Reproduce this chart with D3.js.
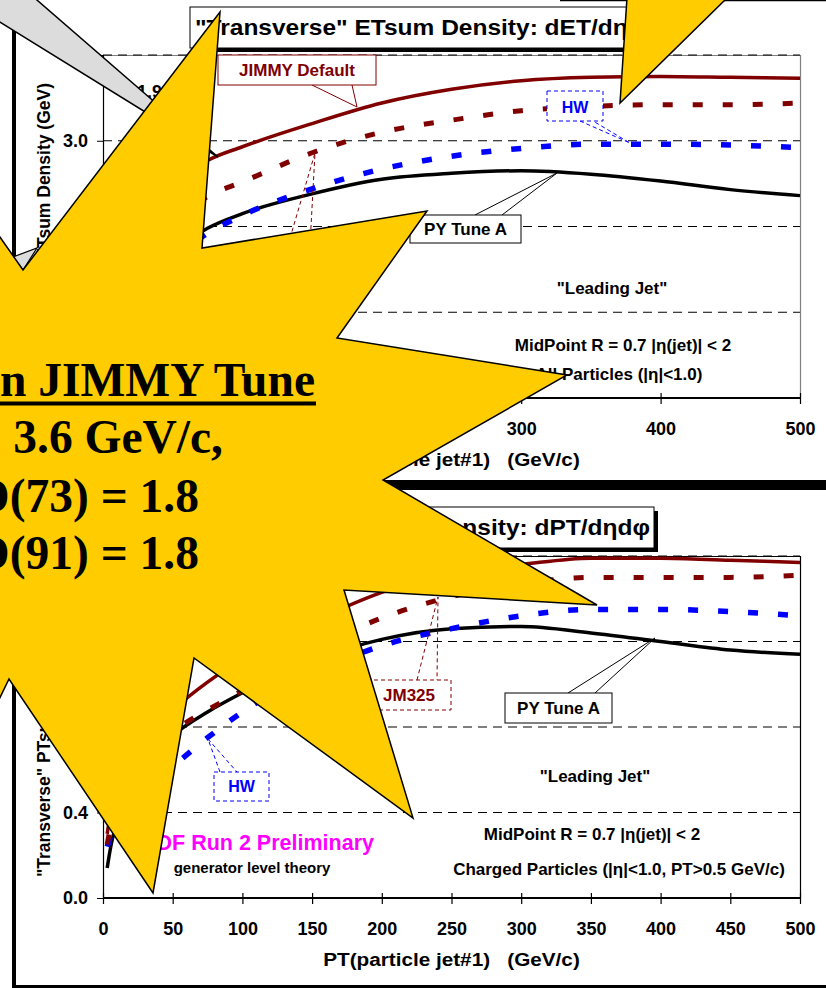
<!DOCTYPE html>
<html><head><meta charset="utf-8">
<script src="https://cdn.jsdelivr.net/npm/d3@7"></script>
<style>html,body{margin:0;padding:0;background:#fff;overflow:hidden}</style>
</head><body>
<svg id="c" width="826" height="988"></svg>
<script>
// ---- data -------------------------------------------------------------
// PT of the leading particle jet (GeV/c) at which each curve is sampled
const ptGrid = [3, 5, 10, 20, 30, 40, 50, 75, 100, 150, 200, 250, 300, 350, 400, 450, 500];

// "Transverse" ETsum density (GeV), all particles |eta|<1
const etJimmyDefault = [0.70, 0.90, 1.35, 1.80, 2.10, 2.32, 2.48, 2.77, 2.93, 3.20, 3.44, 3.60, 3.70, 3.74, 3.75, 3.74, 3.73];
const etJM325        = [0.55, 0.70, 1.05, 1.45, 1.70, 1.90, 2.05, 2.35, 2.52, 2.86, 3.10, 3.24, 3.35, 3.40, 3.42, 3.42, 3.44];
const etHW           = [0.50, 0.60, 0.85, 1.15, 1.35, 1.50, 1.63, 1.92, 2.13, 2.44, 2.67, 2.82, 2.91, 2.96, 2.96, 2.95, 2.92];
const etPYTuneA      = [0.35, 0.45, 0.75, 1.10, 1.35, 1.55, 1.70, 1.98, 2.15, 2.38, 2.55, 2.62, 2.65, 2.61, 2.53, 2.43, 2.36];

// "Transverse" PTsum density (GeV/c), charged particles |eta|<1, PT>0.5
const ptsJimmyDefault = [0.30, 0.38, 0.52, 0.66, 0.75, 0.82, 0.88, 1.01, 1.12, 1.29, 1.43, 1.52, 1.56, 1.59, 1.59, 1.58, 1.57];
const ptsJM325        = [0.25, 0.32, 0.45, 0.58, 0.66, 0.73, 0.78, 0.88, 0.97, 1.16, 1.31, 1.41, 1.47, 1.50, 1.50, 1.50, 1.51];
const ptsHW           = [0.24, 0.28, 0.36, 0.46, 0.53, 0.58, 0.62, 0.75, 0.87, 1.05, 1.18, 1.26, 1.32, 1.35, 1.35, 1.34, 1.32];
const ptsPYTuneA      = [0.14, 0.22, 0.36, 0.52, 0.62, 0.70, 0.76, 0.87, 0.96, 1.11, 1.21, 1.26, 1.27, 1.24, 1.20, 1.16, 1.14];

// tick values
const etTicks = [0, 1, 2, 3, 4];
const ptsTicks = [0, 0.4, 0.8, 1.2, 1.6];
const xTicksTop = [0, 100, 200, 300, 400, 500];
const xTicksBottom = [0, 50, 100, 150, 200, 250, 300, 350, 400, 450, 500];

// tune settings written on the star
const tuneLines = ["Tevatron JIMMY Tune", "PTJIM = 3.6 GeV/c,", "JMRAD(73) = 1.8", "JMRAD(91) = 1.8"];

// ---- drawing ----------------------------------------------------------
const SANS = "Arial, 'Liberation Sans', Helvetica, sans-serif";
const SERIF = "'Times New Roman', 'Liberation Serif', serif";
const DARKRED = "#800000", BLUE = "#0000ff", GOLD = "#ffcc00", GRAY = "#dcdcdc";
const NB = "\u00a0";
const svg = d3.select("#c");

function txt(parent, o) {
  let tf = `translate(${o.x},${o.y})`;
  if (o.rot) tf += ` rotate(${o.rot})`;
  if (o.sx) tf += ` scale(${o.sx},1)`;
  return parent.append("text")
    .attr("transform", tf)
    .attr("text-anchor", o.anchor || "start")
    .attr("font-family", o.family || SANS)
    .attr("font-weight", o.weight || "bold")
    .attr("font-size", o.size)
    .attr("fill", o.fill || "#000")
    .text(o.s);
}

// outer slide frames
svg.append("rect").attr("x", 12).attr("y", -20).attr("width", 4).attr("height", 505).attr("fill", "#000");
svg.append("rect").attr("x", 12).attr("y", 480).attr("width", 830).attr("height", 10).attr("fill", "#000");
svg.append("rect").attr("x", 12).attr("y", 486).attr("width", 4).attr("height", 510).attr("fill", "#000");
svg.append("rect").attr("x", 12).attr("y", 985).attr("width", 830).attr("height", 5).attr("fill", "#000");

const x = d3.scaleLinear().domain([0, 500]).range([103, 800]);

function panel(cfg) {
  const g = svg.append("g");
  const y = d3.scaleLinear().domain([0, cfg.yMax]).range([cfg.bottom, cfg.top]);

  // plot frame
  g.append("path")
    .attr("d", `M103,${cfg.top + 0.5}H800.5V${cfg.bottom}`)
    .attr("fill", "none").attr("stroke", cfg.frameColor).attr("stroke-width", 1.2);

  // dashed gridlines
  g.selectAll("line.grid").data(cfg.yTicks.filter(d => d > 0)).join("line")
    .attr("x1", 103).attr("x2", 800)
    .attr("y1", d => y(d)).attr("y2", d => y(d))
    .attr("stroke", "#000").attr("stroke-width", 1).attr("stroke-dasharray", "9,6");

  // curves
  const line = d3.line().x((d, i) => x(ptGrid[i])).y(d => y(d)).curve(d3.curveMonotoneX);
  cfg.series.forEach(s => {
    g.append("path").datum(s.values).attr("d", line)
      .attr("fill", "none").attr("stroke", s.color).attr("stroke-width", s.width)
      .attr("stroke-dasharray", s.dash || null).attr("stroke-linecap", "butt");
  });

  // axes
  const ya = g.append("g").attr("transform", "translate(103,0)")
    .call(d3.axisLeft(y).tickValues(cfg.yTicks).tickFormat(d3.format(".1f")).tickSize(6).tickPadding(9));
  ya.select(".domain").remove();
  ya.selectAll("text").attr("font-family", SANS).attr("font-weight", "bold").attr("font-size", 18).attr("fill", "#000");
  g.append("line").attr("x1", 103.5).attr("x2", 103.5).attr("y1", cfg.top).attr("y2", cfg.bottom)
    .attr("stroke", "#000").attr("stroke-width", 1.2);

  const xa = g.append("g").attr("transform", `translate(0,${cfg.bottom})`)
    .call(d3.axisBottom(x).tickValues(cfg.xTicks).tickFormat(d3.format("d")).tickSize(6).tickPadding(18));
  xa.select(".domain").remove();
  xa.selectAll(".tick line").attr("y1", -5).attr("stroke-width", 1.2);
  xa.selectAll("text").attr("font-family", SANS).attr("font-weight", "bold").attr("font-size", 18).attr("fill", "#000");
  g.append("line").attr("x1", 103).attr("x2", 801).attr("y1", cfg.bottom).attr("y2", cfg.bottom)
    .attr("stroke", "#000").attr("stroke-width", 2);

  // axis titles
  txt(g, { x: 451.5, y: cfg.bottom + 68, s: "PT(particle jet#1)" + NB + NB + NB + "(GeV/c)", size: 18.5, sx: 1.12, anchor: "middle" });
  txt(g, Object.assign({ rot: -90, size: 17.5 }, cfg.yTitle));

  // title box with drop shadow
  const tb = cfg.titleBox;
  g.append("rect").attr("x", tb.x + 4).attr("y", tb.y + 4).attr("width", tb.w).attr("height", tb.h).attr("fill", "#000");
  g.append("rect").attr("x", tb.x).attr("y", tb.y).attr("width", tb.w).attr("height", tb.h)
    .attr("fill", "#fff").attr("stroke", "#000").attr("stroke-width", 1);
  txt(g, cfg.title);

  cfg.notes.forEach(n => txt(g, n));
  return { g, y };
}

function callout(g, c) {
  g.append("path")
    .attr("d", `M${c.p[0][0]},${c.p[0][1]}L${c.tip[0]},${c.tip[1]}L${c.p[1][0]},${c.p[1][1]}`)
    .attr("fill", "none").attr("stroke", c.color).attr("stroke-width", 1)
    .attr("stroke-dasharray", c.dash || null);
  g.append("rect").attr("x", c.box[0]).attr("y", c.box[1]).attr("width", c.box[2]).attr("height", c.box[3])
    .attr("fill", "#fff").attr("stroke", c.color).attr("stroke-width", 1).attr("stroke-dasharray", c.dash || null);
  txt(g, { x: c.box[0] + c.box[2] / 2, y: c.base, s: c.label, size: c.size || 17, fill: c.text, anchor: "middle" });
}

// ---- upper panel: ETsum density ----
const etPanel = panel({
  yMax: 4, top: 55, bottom: 398, yTicks: etTicks, xTicks: xTicksTop, frameColor: "#7f7f7f",
  series: [
    { values: etPYTuneA, color: "#000", width: 3.5 },
    { values: etHW, color: BLUE, width: 5.5, dash: "10,20" },
    { values: etJM325, color: DARKRED, width: 5, dash: "10,20" },
    { values: etJimmyDefault, color: DARKRED, width: 3.5 }
  ],
  yTitle: { x: 50, y: 83, s: "\"Transverse\" ETsum Density (GeV)", anchor: "end" },
  titleBox: { x: 190, y: 7, w: 455, h: 41 },
  title: { x: 195, y: 35, s: "\"Transverse\" ETsum Density: dET/d\u03b7d\u03c6", size: 21.5, sx: 1.14 },
  notes: [
    { x: 137, y: 98, s: "1.96 TeV", size: 18 },
    { x: 612, y: 294, s: "\"Leading Jet\"", size: 17, anchor: "middle" },
    { x: 623, y: 351, s: "MidPoint R = 0.7 |\u03b7(jet)| < 2", size: 17, anchor: "middle" },
    { x: 619, y: 380, s: "All Particles (|\u03b7|<1.0)", size: 17, anchor: "middle" }
  ]
});
callout(etPanel.g, { p: [[288, 245], [310, 245]], tip: [315, 153], box: [255, 245, 80, 30], color: DARKRED, dash: "4,3", label: "JM325", text: DARKRED, base: 266 });
callout(etPanel.g, { p: [[312, 85], [352, 85]], tip: [357, 107], box: [218, 55, 158, 30], color: DARKRED, label: "JIMMY Default", text: DARKRED, base: 76 });
callout(etPanel.g, { p: [[580, 121], [593, 121]], tip: [630, 143], box: [547, 91, 56, 30], color: BLUE, dash: "4,3", label: "HW", text: BLUE, base: 113, size: 16 });
callout(etPanel.g, { p: [[475, 215], [502, 215]], tip: [557, 173], box: [410, 215, 111, 28], color: "#000", label: "PY Tune A", text: "#000", base: 235 });

// ---- lower panel: PTsum density ----
const ptsPanel = panel({
  yMax: 1.6, top: 556, bottom: 898, yTicks: ptsTicks, xTicks: xTicksBottom, frameColor: "#000",
  series: [
    { values: ptsPYTuneA, color: "#000", width: 3.5 },
    { values: ptsHW, color: BLUE, width: 5.5, dash: "10,20" },
    { values: ptsJM325, color: DARKRED, width: 5, dash: "10,20" },
    { values: ptsJimmyDefault, color: DARKRED, width: 3.5 }
  ],
  yTitle: { x: 50, y: 877, s: "\"Transverse\" PTsum Density (GeV/c)", anchor: "start" },
  titleBox: { x: 205, y: 507, w: 449, h: 41 },
  title: { x: 650, y: 535, s: "\"Transverse\" PTsum Density: dPT/d\u03b7d\u03c6", size: 21.5, sx: 1.14, anchor: "end" },
  notes: [
    { x: 595, y: 782, s: "\"Leading Jet\"", size: 17, anchor: "middle" },
    { x: 592, y: 840, s: "MidPoint R = 0.7 |\u03b7(jet)| < 2", size: 17, anchor: "middle" },
    { x: 619, y: 875, s: "Charged Particles (|\u03b7|<1.0, PT>0.5 GeV/c)", size: 17, anchor: "middle" },
    { x: 374, y: 850, s: "CDF Run 2 Preliminary", size: 21.5, fill: "#ff00ff", anchor: "end" },
    { x: 252, y: 873, s: "generator level theory", size: 15, anchor: "middle" }
  ]
});
callout(ptsPanel.g, { p: [[417, 680], [437, 680]], tip: [438, 597], box: [367, 680, 84, 30], color: DARKRED, dash: "4,3", label: "JM325", text: DARKRED, base: 701 });
callout(ptsPanel.g, { p: [[568, 693], [595, 693]], tip: [655, 638], box: [505, 693, 107, 30], color: "#000", label: "PY Tune A", text: "#000", base: 714 });
callout(ptsPanel.g, { p: [[220, 772], [237, 772]], tip: [208, 739], box: [214, 772, 55, 29], color: BLUE, dash: "4,3", label: "HW", text: BLUE, base: 792, size: 16 });

// ---- overlays ----
// grey callout pointer from the upper left
svg.append("polygon").attr("points", "-20,-20 30,-6 218,157 -7,17.7")
  .attr("fill", GRAY).attr("stroke", "#000").attr("stroke-width", 1.5);
svg.append("polygon").attr("points", "13,257 37,248 23,270")
  .attr("fill", GRAY).attr("stroke", "#000").attr("stroke-width", 1.2);

// yellow burst
const starPts = [[220, 12], [202, 248], [427, 211], [337, 338], [567, 375], [383, 480], [597, 605], [344, 590],
  [413, 818], [194, 658], [153, 893], [9, 679], [-40, 780], [-60, 500], [-40, 180], [23, 270]];
svg.append("polygon").attr("points", starPts.map(p => p.join(",")).join(" "))
  .attr("fill", GOLD).attr("stroke", "#000").attr("stroke-width", 1.5).attr("stroke-linejoin", "miter");

const sg = svg.append("g");
txt(sg, { x: 315, y: 396, s: tuneLines[0], size: 47.5, family: SERIF, anchor: "end" });
sg.append("rect").attr("x", -220).attr("y", 401.5).attr("width", 536).attr("height", 4).attr("fill", "#000");
txt(sg, { x: 223, y: 453, s: tuneLines[1], size: 47.5, family: SERIF, anchor: "end" });
txt(sg, { x: 199, y: 512, s: tuneLines[2], size: 47.5, family: SERIF, anchor: "end" });
txt(sg, { x: 199, y: 569, s: tuneLines[3], size: 47.5, family: SERIF, anchor: "end" });

// yellow callout pointer from the top edge
svg.append("line").attr("x1", 560).attr("x2", 830).attr("y1", 0.5).attr("y2", 0.5).attr("stroke", "#000").attr("stroke-width", 1.5);
svg.append("polygon").attr("points", "627,-2 727,-2 620,103")
  .attr("fill", GOLD).attr("stroke", "#000").attr("stroke-width", 1.5);
</script>
</body></html>
